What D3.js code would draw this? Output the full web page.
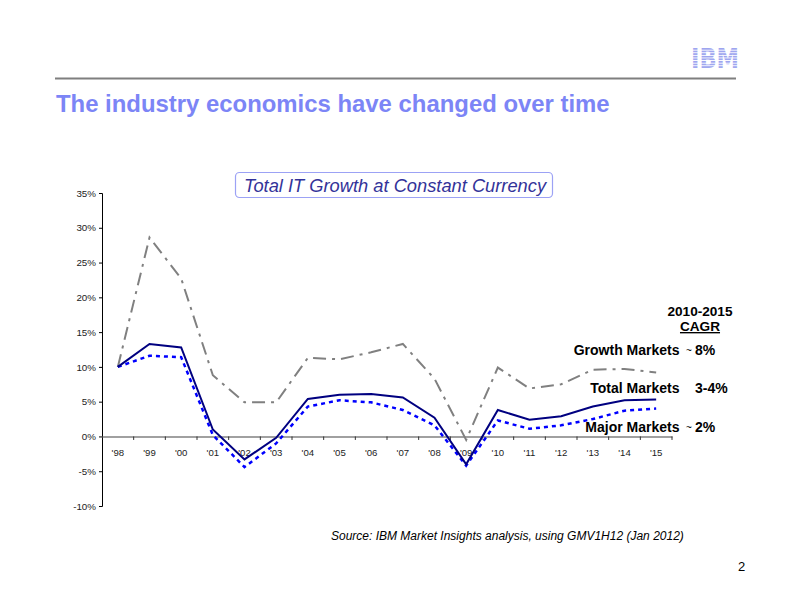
<!DOCTYPE html>
<html>
<head>
<meta charset="utf-8">
<script src="https://cdn.jsdelivr.net/npm/d3@7"></script>
<style>
  html, body { margin: 0; padding: 0; background: #fff; }
  svg { display: block; font-family: Arial, "Liberation Sans", sans-serif; }
</style>
</head>
<body>
<svg id="chart" width="792" height="612"></svg>
<script>
// ---- data ----
const years = ["'98","'99","'00","'01","'02","'03","'04","'05","'06","'07","'08","'09","'10","'11","'12","'13","'14","'15"];
const totalMarkets  = [10.0, 13.3, 12.8, 1.0, -3.3, -0.2, 5.4, 6.0, 6.1, 5.6, 2.7, -4.0, 3.8, 2.4, 2.9, 4.3, 5.2, 5.3];
const majorMarkets  = [10.0, 11.6, 11.4, 0.2, -4.4, -1.0, 4.3, 5.2, 4.9, 3.8, 1.6, -4.2, 2.3, 1.1, 1.6, 2.5, 3.7, 4.0];
const growthMarkets = [10.0, 28.6, 22.7, 8.8, 4.9, 4.9, 11.3, 11.1, 12.1, 13.3, 8.3, -0.5, 9.9, 6.9, 7.5, 9.6, 9.7, 9.2];
const yTicks = [-10, -5, 0, 5, 10, 15, 20, 25, 30, 35];
const cagrLabels = [
  { name: "Growth Markets", value: "8%", tilde: true },
  { name: "Total Markets",  value: "3-4%", tilde: false },
  { name: "Major Markets",  value: "2%", tilde: true }
];

const svg = d3.select("#chart");

// ---- page furniture ----
const defs = svg.append("defs");
const pat = defs.append("pattern").attr("id", "stripes").attr("patternUnits", "userSpaceOnUse")
  .attr("x", 0).attr("y", 48).attr("width", 10).attr("height", 2.6);
pat.append("rect").attr("width", 10).attr("height", 1.7).attr("fill", "#9ea5ef");
svg.append("text").attr("x", 691).attr("y", 68)
  .attr("textLength", 48).attr("lengthAdjust", "spacingAndGlyphs")
  .style("font-family", "'DejaVu Sans', Arial, sans-serif")
  .style("font-weight", "bold").style("font-size", "27px")
  .attr("fill", "url(#stripes)").text("IBM");

svg.append("line").attr("x1", 55).attr("x2", 736).attr("y1", 78.5).attr("y2", 78.5)
  .attr("stroke", "#7f7f7f").attr("stroke-width", 2);

svg.append("text").attr("x", 56).attr("y", 112)
  .style("font-weight", "bold").style("font-size", "23.9px").attr("fill", "#7c85f6")
  .text("The industry economics have changed over time");

// ---- chart ----
const x = d3.scaleBand().domain(years).range([102, 672]);
const y = d3.scaleLinear().domain([-10, 35]).range([506, 193]);

const yAxis = svg.append("g").attr("transform", "translate(102,0)")
  .call(d3.axisLeft(y).tickValues(yTicks).tickSize(3).tickPadding(3).tickFormat(d => d + "%"));
yAxis.select(".domain").attr("stroke", "#000").attr("stroke-width", 1);
yAxis.selectAll(".tick line").attr("stroke", "#000");
yAxis.selectAll("text").style("font-size", "9.8px").attr("fill", "#222")
  .style("font-family", "Arial, 'Liberation Sans', sans-serif");

const xAxis = svg.append("g").attr("transform", `translate(0,${y(0)})`)
  .call(d3.axisBottom(x).tickSize(0).tickPadding(13));
xAxis.select(".domain").attr("stroke", "#808080").attr("stroke-width", 1.6);
xAxis.selectAll("text").style("font-size", "9.6px").attr("fill", "#222")
  .style("font-family", "Arial, 'Liberation Sans', sans-serif");
svg.append("g").selectAll("line").data(years)
  .join("line")
  .attr("x1", d => x(d) + x.bandwidth())
  .attr("x2", d => x(d) + x.bandwidth())
  .attr("y1", y(0)).attr("y2", y(0) + 3.5)
  .attr("stroke", "#333").attr("stroke-width", 1);

const line = d3.line().x((d, i) => x(years[i]) + x.bandwidth() / 2).y(d => y(d));

svg.append("path").datum(growthMarkets).attr("d", line)
  .attr("fill", "none").attr("stroke", "#808080").attr("stroke-width", 2)
  .attr("stroke-dasharray", "13,6,3,6");
svg.append("path").datum(majorMarkets).attr("d", line)
  .attr("fill", "none").attr("stroke", "#0000ff").attr("stroke-width", 2.5)
  .attr("stroke-dasharray", "4,4");
svg.append("path").datum(totalMarkets).attr("d", line)
  .attr("fill", "none").attr("stroke", "#000080").attr("stroke-width", 2);

svg.append("rect").attr("x", 235.5).attr("y", 172.5).attr("width", 317).attr("height", 25)
  .attr("rx", 4).attr("fill", "#fff").attr("stroke", "#9ca2f5").attr("stroke-width", 1.2);
svg.append("text").attr("x", 395).attr("y", 191.5).attr("text-anchor", "middle")
  .style("font-style", "italic").style("font-size", "18.3px").attr("fill", "#333399")
  .text("Total IT Growth at Constant Currency");

svg.append("text").attr("x", 700).attr("y", 316).attr("text-anchor", "middle")
  .style("font-weight", "bold").style("font-size", "13.6px").attr("fill", "#000").text("2010-2015");
svg.append("text").attr("x", 700).attr("y", 331).attr("text-anchor", "middle")
  .style("font-weight", "bold").style("font-size", "13.6px").attr("fill", "#000")
  .style("text-decoration", "underline").text("CAGR");

const labelY = [355, 393, 431.5];
cagrLabels.forEach((c, i) => {
  svg.append("text").attr("x", 679.5).attr("y", labelY[i]).attr("text-anchor", "end")
    .style("font-weight", "bold").style("font-size", "14px").attr("fill", "#000").text(c.name);
  if (c.tilde) {
    svg.append("text").attr("x", 686).attr("y", labelY[i] - 1)
      .style("font-size", "10px").attr("fill", "#000").text("~");
  }
  svg.append("text").attr("x", 695).attr("y", labelY[i])
    .style("font-weight", "bold").style("font-size", "14px").attr("fill", "#000").text(c.value);
});

svg.append("text").attr("x", 331).attr("y", 540)
  .style("font-style", "italic").style("font-size", "12px").attr("fill", "#000")
  .text("Source: IBM Market Insights analysis, using GMV1H12 (Jan 2012)");

svg.append("text").attr("x", 738).attr("y", 571)
  .style("font-size", "13px").attr("fill", "#000").text("2");
</script>
</body>
</html>
